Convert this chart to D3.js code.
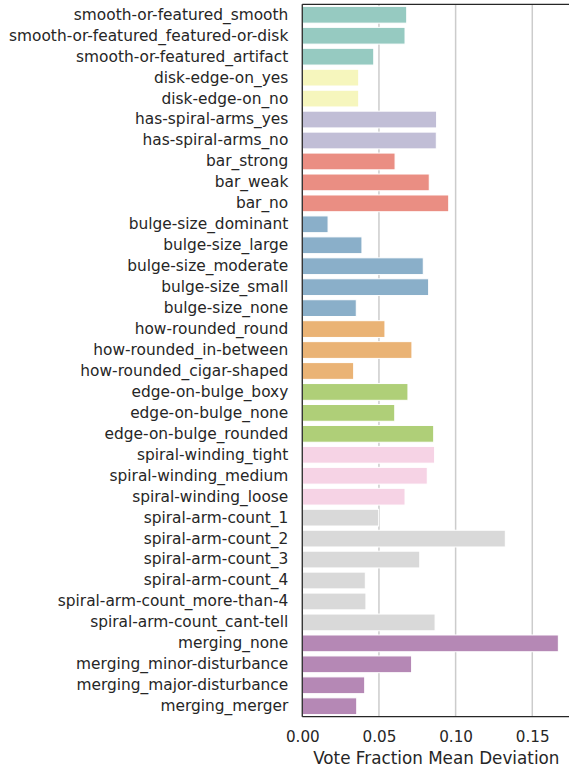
<!DOCTYPE html>
<html>
<head>
<meta charset="utf-8">
<script src="https://cdn.jsdelivr.net/npm/d3@7"></script>
<style>
  html, body { margin: 0; padding: 0; background: #fff; }
  svg { display: block; }
  text { font-family: "DejaVu Sans", sans-serif; fill: #262626; }
</style>
</head>
<body>
<svg id="chart" width="569" height="772"></svg>
<script>
const categories = [
  "smooth-or-featured_smooth", "smooth-or-featured_featured-or-disk", "smooth-or-featured_artifact",
  "disk-edge-on_yes", "disk-edge-on_no",
  "has-spiral-arms_yes", "has-spiral-arms_no",
  "bar_strong", "bar_weak", "bar_no",
  "bulge-size_dominant", "bulge-size_large", "bulge-size_moderate", "bulge-size_small", "bulge-size_none",
  "how-rounded_round", "how-rounded_in-between", "how-rounded_cigar-shaped",
  "edge-on-bulge_boxy", "edge-on-bulge_none", "edge-on-bulge_rounded",
  "spiral-winding_tight", "spiral-winding_medium", "spiral-winding_loose",
  "spiral-arm-count_1", "spiral-arm-count_2", "spiral-arm-count_3", "spiral-arm-count_4",
  "spiral-arm-count_more-than-4", "spiral-arm-count_cant-tell",
  "merging_none", "merging_minor-disturbance", "merging_major-disturbance", "merging_merger"
];
const values = [
  0.0681, 0.0670, 0.0466,
  0.0368, 0.0368,
  0.0876, 0.0874,
  0.0605, 0.0828, 0.0955,
  0.0168, 0.0389, 0.0789, 0.0824, 0.0352,
  0.0539, 0.0715, 0.0335,
  0.0689, 0.0603, 0.0857,
  0.0863, 0.0815, 0.0670,
  0.0498, 0.1324, 0.0766, 0.0411, 0.0415, 0.0866,
  0.1670, 0.0713, 0.0407, 0.0355
];
const groups = [
  "smooth-or-featured", "smooth-or-featured", "smooth-or-featured",
  "disk-edge-on", "disk-edge-on",
  "has-spiral-arms", "has-spiral-arms",
  "bar", "bar", "bar",
  "bulge-size", "bulge-size", "bulge-size", "bulge-size", "bulge-size",
  "how-rounded", "how-rounded", "how-rounded",
  "edge-on-bulge", "edge-on-bulge", "edge-on-bulge",
  "spiral-winding", "spiral-winding", "spiral-winding",
  "spiral-arm-count", "spiral-arm-count", "spiral-arm-count", "spiral-arm-count", "spiral-arm-count", "spiral-arm-count",
  "merging", "merging", "merging", "merging"
];
const groupNames = ["smooth-or-featured", "disk-edge-on", "has-spiral-arms", "bar", "bulge-size",
  "how-rounded", "edge-on-bulge", "spiral-winding", "spiral-arm-count", "merging"];
const groupColors = ["#96cac1", "#f6f6bd", "#c1bed6", "#ea8e83", "#8aafc9",
  "#eab375", "#afcf78", "#f6d3e5", "#d9d9d9", "#b588b5"];
const xTicks = [0, 0.05, 0.10, 0.15];
const xLabel = "Vote Fraction Mean Deviation";

const data = categories.map((c, i) => ({ name: c, value: values[i], group: groups[i] }));

const margin = { left: 302.3, top: 4.3, right: 570.3, bottom: 716.7 };
const svg = d3.select("#chart");

const x = d3.scaleLinear().domain([0, 0.1748]).range([margin.left, margin.right]);
const y = d3.scaleBand().domain(categories).range([margin.top, margin.bottom]).paddingInner(0.2).paddingOuter(0.1);
const color = d3.scaleOrdinal().domain(groupNames).range(groupColors);

// grid
svg.append("g").selectAll("line").data(xTicks).join("line")
  .attr("x1", d => x(d)).attr("x2", d => x(d))
  .attr("y1", margin.top).attr("y2", margin.bottom)
  .attr("stroke", "#cccccc").attr("stroke-width", 1.5);

// bars
svg.append("g").selectAll("rect").data(data).join("rect")
  .attr("x", x(0))
  .attr("y", d => y(d.name))
  .attr("width", d => x(d.value) - x(0))
  .attr("height", y.bandwidth())
  .attr("fill", d => color(d.group))
  .attr("stroke", "#ffffff").attr("stroke-width", 1);

// spines
const sp = svg.append("g").attr("stroke", "#262626").attr("stroke-width", 1.25).attr("fill", "none");
sp.append("line").attr("x1", margin.left).attr("x2", margin.left).attr("y1", margin.top).attr("y2", margin.bottom);
sp.append("line").attr("x1", margin.left).attr("x2", margin.right).attr("y1", margin.top).attr("y2", margin.top);
sp.append("line").attr("x1", margin.left).attr("x2", margin.right).attr("y1", margin.bottom).attr("y2", margin.bottom);
sp.append("line").attr("x1", margin.right).attr("x2", margin.right).attr("y1", margin.top).attr("y2", margin.bottom);

// y axis labels
const yAxis = d3.axisLeft(y).tickSize(0).tickPadding(14);
const gy = svg.append("g").attr("transform", `translate(${margin.left},0)`).call(yAxis);
gy.select(".domain").remove();
gy.selectAll("text").style("font-family", "DejaVu Sans").style("font-size", "15.4px").attr("fill", "#262626");

// x axis
const xAxis = d3.axisBottom(x).tickValues(xTicks).tickFormat(d3.format(".2f")).tickSize(0).tickPadding(15);
const gx = svg.append("g").attr("transform", `translate(0,${margin.bottom})`).call(xAxis);
gx.select(".domain").remove();
gx.selectAll("text").style("font-family", "DejaVu Sans").style("font-size", "15.2px").attr("fill", "#262626");

svg.append("text")
  .attr("x", (margin.left + margin.right) / 2)
  .attr("y", 764)
  .attr("text-anchor", "middle")
  .style("font-size", "16.8px")
  .text(xLabel);
</script>
</body>
</html>
